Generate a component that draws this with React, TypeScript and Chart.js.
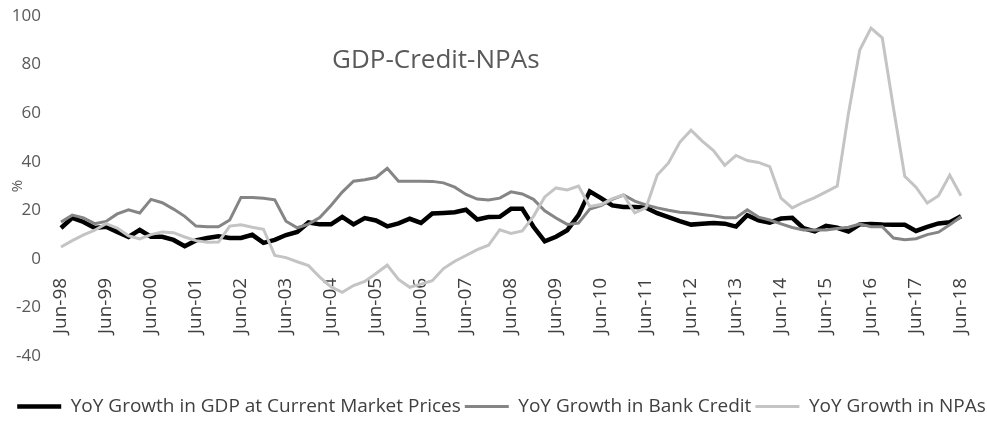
import React, { useEffect, useRef } from 'react';
import { Chart, registerables } from 'chart.js';

Chart.register(...registerables);

const chartTitle = 'GDP-Credit-NPAs';
const yAxisTitle = '%';

const quarters = [
  'Jun-98','Sep-98','Dec-98','Mar-99','Jun-99','Sep-99','Dec-99','Mar-00',
  'Jun-00','Sep-00','Dec-00','Mar-01','Jun-01','Sep-01','Dec-01','Mar-02',
  'Jun-02','Sep-02','Dec-02','Mar-03','Jun-03','Sep-03','Dec-03','Mar-04',
  'Jun-04','Sep-04','Dec-04','Mar-05','Jun-05','Sep-05','Dec-05','Mar-06',
  'Jun-06','Sep-06','Dec-06','Mar-07','Jun-07','Sep-07','Dec-07','Mar-08',
  'Jun-08','Sep-08','Dec-08','Mar-09','Jun-09','Sep-09','Dec-09','Mar-10',
  'Jun-10','Sep-10','Dec-10','Mar-11','Jun-11','Sep-11','Dec-11','Mar-12',
  'Jun-12','Sep-12','Dec-12','Mar-13','Jun-13','Sep-13','Dec-13','Mar-14',
  'Jun-14','Sep-14','Dec-14','Mar-15','Jun-15','Sep-15','Dec-15','Mar-16',
  'Jun-16','Sep-16','Dec-16','Mar-17','Jun-17','Sep-17','Dec-17','Mar-18',
  'Jun-18'
];

const tickLabels = [
  'Jun-98','Jun-99','Jun-00','Jun-01','Jun-02','Jun-03','Jun-04','Jun-05',
  'Jun-06','Jun-07','Jun-08','Jun-09','Jun-10','Jun-11','Jun-12','Jun-13',
  'Jun-14','Jun-15','Jun-16','Jun-17','Jun-18'
];

const seriesNames = [
  'YoY Growth in GDP at Current Market Prices',
  'YoY Growth in Bank Credit',
  'YoY Growth in NPAs'
];

const gdpGrowth = [
  12.7, 16.9, 15.2, 12.7, 13.2, 11.1, 9.0, 11.9,
  9.1, 9.1, 7.8, 5.2, 7.6, 8.6, 9.3, 8.6,
  8.6, 9.9, 6.6, 7.8, 9.8, 11.1, 15.0, 14.2,
  14.2, 17.3, 14.2, 16.8, 15.8, 13.4, 14.6, 16.5,
  14.8, 18.7, 18.9, 19.2, 20.2, 16.2, 17.2, 17.3,
  20.6, 20.6, 13.2, 7.2, 9.1, 11.8, 18.0, 27.8,
  25.0, 22.0, 21.4, 21.4, 21.1, 18.8, 17.2, 15.5,
  14.1, 14.5, 14.8, 14.5, 13.3, 18.0, 15.9, 14.9,
  16.6, 16.9, 12.6, 11.3, 13.6, 12.8, 11.3, 14.2,
  14.4, 14.1, 14.0, 14.0, 11.5, 13.2, 14.6, 15.1,
  17.5
];

const creditGrowth = [
  15.2, 18.0, 16.9, 14.5, 15.4, 18.5, 20.2, 18.9,
  24.5, 23.1, 20.5, 17.5, 13.5, 13.2, 13.2, 16.0,
  25.3, 25.3, 25.0, 24.3, 15.5, 12.8, 14.3, 17.0,
  22.0, 27.5, 32.0, 32.6, 33.5, 37.3, 32.0, 32.0,
  32.0, 31.9, 31.3, 29.5, 26.5, 24.6, 24.2, 25.0,
  27.6, 26.7, 24.5, 19.8, 16.8, 14.2, 14.7, 20.5,
  21.9, 24.5, 26.3, 23.8, 22.2, 21.0, 20.0, 19.2,
  18.9, 18.3, 17.7, 16.9, 16.9, 20.2, 17.2, 16.0,
  14.4, 12.9, 11.9, 11.9, 11.9, 12.5, 13.0, 14.3,
  13.2, 13.2, 8.6, 7.9, 8.3, 10.0, 11.0, 14.0,
  17.3
];

const npaGrowth = [
  4.9, 7.5, 9.9, 11.8, 14.5, 12.7, 9.5, 8.2,
  10.0, 11.1, 10.8, 9.0, 7.5, 6.8, 6.9, 13.5,
  14.0, 13.0, 12.2, 1.4, 0.5, -1.2, -2.8, -7.5,
  -11.5, -13.8, -11.0, -9.3, -6.0, -2.6, -8.5, -11.7,
  -10.4, -9.0, -4.0, -1.0, 1.4, 3.8, 5.6, 12.0,
  10.5, 11.5, 17.5, 25.5, 29.2, 28.4, 30.0, 21.6,
  22.4, 24.8, 26.3, 18.9, 21.0, 34.5, 39.5, 48.0,
  53.0, 48.5, 44.6, 38.5, 42.6, 40.5, 39.7, 38.0,
  25.0, 21.0, 23.3, 25.2, 27.6, 30.0, 60.0, 86.0,
  95.0, 91.0, 62.0, 34.0, 29.5, 23.0, 26.0, 34.5,
  26.0
];

const seriesColors = ['#000000', '#858585', '#c4c4c4'];
const seriesWidths = [4.5, 3, 3];

const FONT = '"Open Sans", "DejaVu Sans", sans-serif';

const innerTitlePlugin = {
  id: 'innerTitle',
  afterLayout(chart: any) {
    // nudge the legend row slightly right, as in the reference
    if (chart.legend) {
      chart.legend.left += 8;
      chart.legend.right += 8;
    }
  },
  afterDraw(chart: any) {
    const { ctx, chartArea } = chart;
    ctx.save();
    ctx.font = `26px ${FONT}`;
    ctx.fillStyle = '#595959';
    ctx.textAlign = 'left';
    ctx.textBaseline = 'alphabetic';
    ctx.fillText(chartTitle, chartArea.left + 271, chartArea.top + 52);
    ctx.restore();
  }
};

export default function App() {
  const canvasRef = useRef<HTMLCanvasElement | null>(null);

  useEffect(() => {
    document.body.style.margin = '0';
    const canvas = canvasRef.current;
    if (!canvas) return;

    const values = [gdpGrowth, creditGrowth, npaGrowth];
    const datasets = values.map((data, i) => ({
      label: seriesNames[i],
      data,
      xAxisID: 'x',
      yAxisID: 'y',
      borderColor: seriesColors[i],
      backgroundColor: seriesColors[i],
      borderWidth: seriesWidths[i],
      pointBorderColor: seriesColors[i],
      pointBackgroundColor: seriesColors[i],
      pointBorderWidth: seriesWidths[i],
      pointRadius: 0,
      pointHoverRadius: 0,
      tension: 0,
      fill: false,
      order: 3 - i
    }));

    const chart = new Chart(canvas, {
      type: 'line',
      data: { labels: quarters, datasets },
      plugins: [innerTitlePlugin],
      options: {
        responsive: false,
        animation: false,
        devicePixelRatio: 1,
        layout: { padding: { top: 16, left: 0, right: 0, bottom: 0 } },
        plugins: {
          title: { display: false },
          tooltip: { enabled: false },
          legend: {
            display: true,
            position: 'bottom',
            labels: {
              usePointStyle: true,
              pointStyle: 'line',
              pointStyleWidth: 44,
              padding: 4,
              color: '#404040',
              font: { family: FONT, size: 19 },
              sort: (a: any, b: any) => a.datasetIndex - b.datasetIndex
            }
          }
        },
        scales: {
          x: {
            type: 'category',
            position: { y: 0 } as any,
            offset: false,
            grid: { display: false, drawTicks: false },
            border: { display: false },
            ticks: {
              autoSkip: false,
              maxRotation: 90,
              minRotation: 90,
              padding: 19,
              color: '#404040',
              font: { family: FONT, size: 19 },
              callback: (_v: any, idx: number) =>
                tickLabels.includes(quarters[idx]) ? quarters[idx] : null
            },
            afterFit: (s: any) => { s.paddingLeft = 0; s.paddingRight = 0; }
          },
          xb: {
            type: 'linear',
            position: 'bottom',
            display: true,
            grid: { display: false, drawTicks: false },
            border: { display: false },
            ticks: { display: false },
            afterFit: (s: any) => { s.height = 37; }
          },
          y: {
            type: 'linear',
            position: 'left',
            min: -40,
            max: 100,
            grid: { display: false, drawTicks: false },
            border: { display: false },
            ticks: {
              stepSize: 20,
              padding: 20,
              color: '#595959',
              font: { family: FONT, size: 17 }
            },
            title: {
              display: true,
              text: yAxisTitle,
              color: '#595959',
              font: { family: FONT, size: 15 },
              padding: { top: 9, bottom: 0 }
            },
            afterFit: (s: any) => { s.width = 61; s.paddingTop = 0; s.paddingBottom = 0; }
          },
          yr: {
            type: 'linear',
            position: 'right',
            display: true,
            grid: { display: false, drawTicks: false },
            border: { display: false },
            ticks: { display: false },
            afterFit: (s: any) => { s.width = 26; }
          }
        }
      }
    } as any);

    return () => chart.destroy();
  }, []);

  return (
    <div style={{ position: 'fixed', left: 0, top: 0, width: 987, height: 421, overflow: 'hidden', background: '#ffffff' }}>
      <canvas ref={canvasRef} width={987} height={426} style={{ display: 'block' }} />
    </div>
  );
}
